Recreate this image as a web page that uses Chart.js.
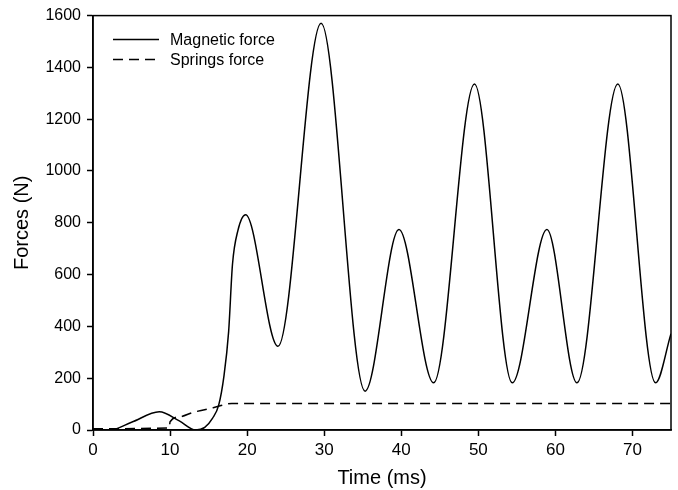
<!DOCTYPE html>
<html>
<head>
<meta charset="utf-8">
<script src="https://cdn.jsdelivr.net/npm/chart.js@4/dist/chart.umd.min.js"></script>
<style>
  html, body { margin: 0; padding: 0; background: #fff; }
  #wrap { width: 678px; height: 490px; }
</style>
</head>
<body>
<div id="wrap"><canvas id="chart" width="678" height="490"></canvas></div>
<script>
// values
const magTime  = [0, 2.2, 5, 8.6, 11.2, 13.3, 14.5, 15.5, 16.3, 17.0, 17.6, 18.1, 18.8, 19.8, 24.0, 29.6, 35.3, 39.7, 44.2, 49.5, 54.4, 58.9, 62.8, 68.1, 73.0, 75];
const magForce = [0, 0, 30, 70, 35, 0, 10, 45, 95, 210, 380, 640, 770, 831, 323, 1570, 150, 774, 182, 1336, 182, 774, 182, 1336, 182, 372];

const sprTime  = [0, 9.9, 10.0, 11.3, 13.0, 15.6, 18.0, 75];
const sprForce = [5, 8, 32, 51, 68, 86, 102, 102];

const xTicks = [0, 10, 20, 30, 40, 50, 60, 70];
const yTicks = [0, 200, 400, 600, 800, 1000, 1200, 1400, 1600];

const seriesNames = ["Magnetic force", "Springs force"];

const FONT = "'Liberation Sans', Arial, sans-serif";

const toPoints = (xs, ys) => xs.map((x, i) => ({ x: x, y: ys[i] }));

const frameAndLegend = {
  id: "frameAndLegend",
  afterDraw(chart) {
    const { ctx, chartArea } = chart;
    ctx.save();
    // box around plot
    ctx.strokeStyle = "#000";
    ctx.lineWidth = 1.5;
    ctx.setLineDash([]);
    ctx.strokeRect(chartArea.left, chartArea.top, chartArea.right - chartArea.left, chartArea.bottom - chartArea.top);

    // legend inside the plot, top left
    const x0 = chartArea.left + 20, x1 = chartArea.left + 66;
    const rows = [chartArea.top + 24, chartArea.top + 44];
    ctx.font = "16px " + FONT;
    ctx.fillStyle = "#000";
    ctx.textBaseline = "middle";
    chart.data.datasets.forEach((ds, i) => {
      ctx.beginPath();
      ctx.setLineDash(ds.borderDash || []);
      ctx.lineWidth = 1.5;
      ctx.moveTo(x0, rows[i]);
      ctx.lineTo(x1, rows[i]);
      ctx.stroke();
      ctx.fillText(ds.label, x1 + 11, rows[i] + 1);
    });
    ctx.restore();
  }
};

new Chart(document.getElementById("chart").getContext("2d"), {
  type: "line",
  data: {
    datasets: [
      {
        label: seriesNames[0],
        data: toPoints(magTime, magForce),
        borderColor: "#000",
        borderWidth: 1.5,
        pointRadius: 0,
        cubicInterpolationMode: "monotone",
        fill: false
      },
      {
        label: seriesNames[1],
        data: toPoints(sprTime, sprForce),
        borderColor: "#000",
        borderWidth: 1.5,
        borderDash: [10, 6],
        pointRadius: 0,
        cubicInterpolationMode: "monotone",
        fill: false
      }
    ]
  },
  options: {
    responsive: false,
    animation: false,
    layout: { padding: { top: 14, right: 7, left: 0, bottom: 0 } },
    plugins: {
      legend: { display: false },
      tooltip: { enabled: false }
    },
    scales: {
      x: {
        type: "linear",
        min: 0,
        max: 75,
        afterBuildTicks: (s) => { s.ticks = xTicks.map(v => ({ value: v })); },
        afterFit: (s) => { s.height = 60; },
        grid: { drawOnChartArea: false, tickLength: 6, tickColor: "#000", tickWidth: 1.5 },
        border: { color: "#000", width: 1.5 },
        ticks: { color: "#000", font: { family: FONT, size: 17 }, padding: 4, maxRotation: 0, callback: (v) => String(v) },
        title: { display: true, text: "Time (ms)", color: "#000", font: { family: FONT, size: 20 }, padding: { top: 0, bottom: 0 } }
      },
      y: {
        min: 0,
        max: 1600,
        afterBuildTicks: (s) => { s.ticks = yTicks.map(v => ({ value: v })); },
        afterFit: (s) => { s.width = 93; },
        grid: { drawOnChartArea: false, tickLength: 6, tickColor: "#000", tickWidth: 1.5 },
        border: { color: "#000", width: 1.5 },
        ticks: { color: "#000", font: { family: FONT, size: 16 }, padding: 6, callback: (v) => String(v) },
        title: { display: true, text: "Forces (N)", color: "#000", font: { family: FONT, size: 20 }, padding: { top: 10, bottom: 0 } }
      }
    }
  },
  plugins: [frameAndLegend]
});
</script>
</body>
</html>
